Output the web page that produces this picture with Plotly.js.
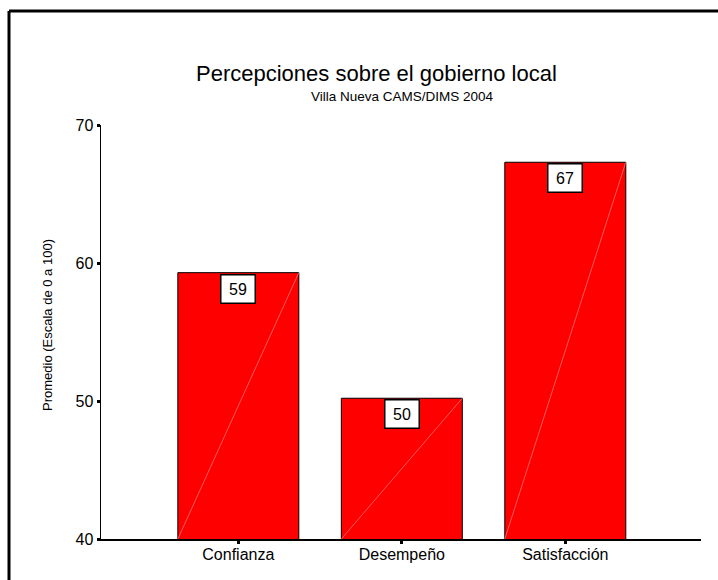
<!DOCTYPE html>
<html>
<head>
<meta charset="utf-8">
<script src="https://cdn.plot.ly/plotly-3.0.1.min.js"></script>
<style>html,body{margin:0;padding:0;background:#fff;}#chart{width:718px;height:580px;}</style>
</head>
<body>
<div id="chart"></div>
<script>
const categories = ["Confianza", "Desempeño", "Satisfacción"];
const values = [59.3, 50.2, 67.3];
const labels = ["59", "50", "67"];
const yTicks = [40, 50, 60, 70];

const barWidth = 0.74;
const yMin = 40;
const font = "Arial, 'Liberation Sans', sans-serif";

const traces = [{
  type: "bar",
  x: [0, 1, 2],
  y: values,
  width: barWidth,
  marker: {color: "#ff0000", line: {color: "#000", width: 1}},
  hoverinfo: "skip"
}];

// faint diagonal lines inside each bar (from data)
values.forEach((v, i) => {
  traces.push({
    type: "scatter", mode: "lines",
    x: [i - barWidth / 2, i + barWidth / 2],
    y: [yMin, v],
    line: {color: "#ff9a9a", width: 0.6},
    hoverinfo: "skip", showlegend: false
  });
});

const annotations = values.map((v, i) => ({
  x: i, y: v, xref: "x", yref: "y",
  text: labels[i], showarrow: false,
  yanchor: "top", yshift: -1,
  width: 27, height: 21,
  bgcolor: "#fff", bordercolor: "#000", borderwidth: 1.5, borderpad: 3,
  font: {family: font, size: 16, color: "#000"}
}));

annotations.push({
  xref: "paper", yref: "paper", x: (376 - 101) / 600, y: (539 - 73) / 414,
  text: "Percepciones sobre el gobierno local", showarrow: false,
  xanchor: "center", yanchor: "middle",
  font: {family: font, size: 22, color: "#000"}
});
annotations.push({
  xref: "paper", yref: "paper", x: (402 - 101) / 600, y: (539 - 97) / 414,
  text: "Villa Nueva CAMS/DIMS 2004", showarrow: false,
  xanchor: "center", yanchor: "middle",
  font: {family: font, size: 13.5, color: "#000"}
});
annotations.push({
  xref: "paper", yref: "paper", x: (47 - 101) / 600, y: (539 - 325) / 414,
  text: "Promedio (Escala de 0 a 100)", showarrow: false, textangle: -90,
  xanchor: "center", yanchor: "middle",
  font: {family: font, size: 13, color: "#000"}
});

const layout = {
  width: 718, height: 580,
  margin: {l: 101, r: 17, t: 125, b: 41, pad: 0},
  paper_bgcolor: "#fff", plot_bgcolor: "#fff",
  showlegend: false,
  xaxis: {
    range: [-0.84, 2.83],
    tickvals: [0, 1, 2], ticktext: categories,
    showgrid: false, zeroline: false,
    showline: true, linecolor: "#000", linewidth: 1.5,
    ticks: "outside", ticklen: 3, tickwidth: 3, tickcolor: "#000",
    ticklabelstandoff: -3,
    tickfont: {family: font, size: 16, color: "#000"},
    fixedrange: true
  },
  yaxis: {
    range: [yMin, 70],
    tickvals: yTicks,
    showgrid: false, zeroline: false,
    showline: true, linecolor: "#000", linewidth: 1.5,
    ticks: "outside", ticklen: 3, tickwidth: 3, tickcolor: "#000",
    tickfont: {family: font, size: 16, color: "#000"},
    fixedrange: true
  },
  annotations: annotations,
  shapes: [
    {type: "line", xref: "paper", yref: "paper",
     x0: (9 - 101) / 600, x1: (720 - 101) / 600,
     y0: (539 - 11) / 414, y1: (539 - 11) / 414,
     line: {color: "#000", width: 3}},
    {type: "line", xref: "paper", yref: "paper",
     x0: (9 - 101) / 600, x1: (9 - 101) / 600,
     y0: (539 - 11) / 414, y1: (539 - 582) / 414,
     line: {color: "#000", width: 3}}
  ]
};

Plotly.newPlot("chart", traces, layout, {displayModeBar: false, staticPlot: true});
</script>
</body>
</html>
